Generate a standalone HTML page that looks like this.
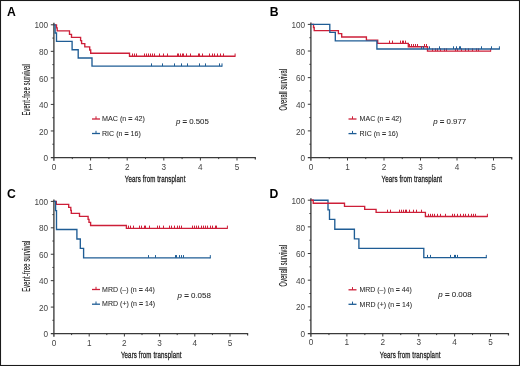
<!DOCTYPE html>
<html><head><meta charset="utf-8"><style>
html,body{margin:0;padding:0;background:#fff;}
body{width:520px;height:366px;overflow:hidden;}
svg{display:block;}
text{font-family:"Liberation Sans", sans-serif;}
svg{will-change:transform;}
.tk{font-size:8.2px;fill:#444;}
.tt{font-size:10.4px;fill:#1a1a1a;stroke:#1a1a1a;stroke-width:0.12px;}
.tx{font-size:9.5px;stroke-width:0.3px;}
.lg{font-size:7.3px;fill:#2a2a2a;stroke:#2a2a2a;stroke-width:0.06px;}
.lt{font-size:12.2px;font-weight:bold;fill:#000;}
</style></head><body>
<svg width="520" height="366" viewBox="0 0 520 366">
<rect x="0" y="0" width="520" height="366" fill="#fff"/>
<path d="M53.90 22.80V160.70" fill="none" stroke="#333" stroke-width="1.3"/>
<path d="M50.80 157.60H255.30v2" fill="none" stroke="#3a3a3a" stroke-width="1.25"/>
<path d="M52.40 144.23H54.00M50.80 130.96H54.00M52.40 117.69H54.00M50.80 104.42H54.00M52.40 91.15H54.00M50.80 77.88H54.00M52.40 64.61H54.00M50.80 51.34H54.00M52.40 38.07H54.00M50.80 24.80H54.00M72.30 157.50V159.10M90.60 157.50V160.50M108.90 157.50V159.10M127.20 157.50V160.50M145.50 157.50V159.10M163.80 157.50V160.50M182.10 157.50V159.10M200.40 157.50V160.50M218.70 157.50V159.10M237.00 157.50V160.50" fill="none" stroke="#3a3a3a" stroke-width="1.0"/>
<text x="48.10" y="161.15" text-anchor="end" class="tk">0</text>
<text x="48.10" y="134.61" text-anchor="end" class="tk">20</text>
<text x="48.10" y="108.07" text-anchor="end" class="tk">40</text>
<text x="48.10" y="81.53" text-anchor="end" class="tk">60</text>
<text x="48.10" y="54.99" text-anchor="end" class="tk">80</text>
<text x="48.10" y="28.45" text-anchor="end" class="tk">100</text>
<text x="54.00" y="170.40" text-anchor="middle" class="tk">0</text>
<text x="90.60" y="170.40" text-anchor="middle" class="tk">1</text>
<text x="127.20" y="170.40" text-anchor="middle" class="tk">2</text>
<text x="163.80" y="170.40" text-anchor="middle" class="tk">3</text>
<text x="200.40" y="170.40" text-anchor="middle" class="tk">4</text>
<text x="237.00" y="170.40" text-anchor="middle" class="tk">5</text>
<text transform="translate(155.05,182.20) scale(0.650,1)" text-anchor="middle" textLength="93.23" lengthAdjust="spacing" class="tt tx">Years from transplant</text>
<text transform="translate(30.00,89.90) rotate(-90) scale(0.540,1)" text-anchor="middle" textLength="94.63" lengthAdjust="spacing" class="tt">Event-free survival</text>
<text x="7.10" y="15.70" class="lt">A</text>
<path d="M54.00 24.80H56.50V27.90H57.20V30.90H69.50V34.30H71.50V37.40H80.60V40.60H81.60V43.60H84.80V46.90H89.70V50.00H90.70V53.20H129.50V56.20H235.30" fill="none" stroke="#cd1f38" stroke-width="1.35" stroke-linejoin="miter" stroke-linecap="butt"/>
<path d="M235.10 56.70v-3.2M132.50 56.20v-2.7M134.50 56.20v-2.7M136.50 56.20v-2.7M144.50 56.20v-2.7M146.50 56.20v-2.7M148.50 56.20v-2.7M150.50 56.20v-2.7M152.50 56.20v-2.7M154.50 56.20v-2.7M159.50 56.20v-2.7M163.50 56.20v-2.7M167.50 56.20v-2.7M177.50 56.20v-2.7M178.50 56.20v-2.7M180.50 56.20v-2.7M182.50 56.20v-2.7M183.50 56.20v-2.7M186.50 56.20v-2.7M190.50 56.20v-2.7M198.50 56.20v-2.7M199.50 56.20v-2.7M202.50 56.20v-2.7M209.50 56.20v-2.7M212.50 56.20v-2.7M214.50 56.20v-2.7M217.50 56.20v-2.7M220.50 56.20v-2.7M223.50 56.20v-2.7" fill="none" stroke="#cd1f38" stroke-width="1.0"/>
<path d="M54.00 24.80H55.10V33.00H56.50V41.40H72.10V49.70H78.20V58.00H92.00V66.10H222.20" fill="none" stroke="#1f5d95" stroke-width="1.35" stroke-linejoin="miter" stroke-linecap="butt"/>
<path d="M222.00 66.60v-3.2M151.50 66.10v-2.7M162.50 66.10v-2.7M174.50 66.10v-2.7M181.50 66.10v-2.7M187.50 66.10v-2.7M199.50 66.10v-2.7M205.50 66.10v-2.7M219.50 66.10v-2.7" fill="none" stroke="#1f5d95" stroke-width="1.0"/>
<path d="M92.00 119.00H100.00" fill="none" stroke="#cd1f38" stroke-width="1.3"/><path d="M96.00 119.00v-2.7" fill="none" stroke="#cd1f38" stroke-width="1.0"/>
<text transform="translate(102.00,121.20) scale(0.984,1)" class="lg">MAC (n <tspan font-weight="bold">=</tspan> 42)</text>
<path d="M92.00 133.50H100.00" fill="none" stroke="#1f5d95" stroke-width="1.3"/><path d="M96.00 133.50v-2.7" fill="none" stroke="#1f5d95" stroke-width="1.0"/>
<text transform="translate(102.00,135.70) scale(0.971,1)" class="lg">RIC (n <tspan font-weight="bold">=</tspan> 16)</text>
<text transform="translate(175.90,123.60) scale(1.074,1)" class="lg"><tspan font-style="italic">p</tspan> <tspan font-weight="bold">=</tspan> 0.505</text>
<path d="M310.90 22.40V160.70" fill="none" stroke="#333" stroke-width="1.3"/>
<path d="M307.80 157.60H511.75v2" fill="none" stroke="#3a3a3a" stroke-width="1.25"/>
<path d="M309.40 144.19H311.00M307.80 130.88H311.00M309.40 117.57H311.00M307.80 104.26H311.00M309.40 90.95H311.00M307.80 77.64H311.00M309.40 64.33H311.00M307.80 51.02H311.00M309.40 37.71H311.00M307.80 24.40H311.00M329.25 157.50V159.10M347.50 157.50V160.50M365.75 157.50V159.10M384.00 157.50V160.50M402.25 157.50V159.10M420.50 157.50V160.50M438.75 157.50V159.10M457.00 157.50V160.50M475.25 157.50V159.10M493.50 157.50V160.50" fill="none" stroke="#3a3a3a" stroke-width="1.0"/>
<text x="305.10" y="161.15" text-anchor="end" class="tk">0</text>
<text x="305.10" y="134.53" text-anchor="end" class="tk">20</text>
<text x="305.10" y="107.91" text-anchor="end" class="tk">40</text>
<text x="305.10" y="81.29" text-anchor="end" class="tk">60</text>
<text x="305.10" y="54.67" text-anchor="end" class="tk">80</text>
<text x="305.10" y="28.05" text-anchor="end" class="tk">100</text>
<text x="311.00" y="170.40" text-anchor="middle" class="tk">0</text>
<text x="347.50" y="170.40" text-anchor="middle" class="tk">1</text>
<text x="384.00" y="170.40" text-anchor="middle" class="tk">2</text>
<text x="420.50" y="170.40" text-anchor="middle" class="tk">3</text>
<text x="457.00" y="170.40" text-anchor="middle" class="tk">4</text>
<text x="493.50" y="170.40" text-anchor="middle" class="tk">5</text>
<text transform="translate(411.77,182.20) scale(0.650,1)" text-anchor="middle" textLength="93.23" lengthAdjust="spacing" class="tt tx">Years from transplant</text>
<text transform="translate(286.60,89.70) rotate(-90) scale(0.540,1)" text-anchor="middle" textLength="77.04" lengthAdjust="spacing" class="tt">Overall survival</text>
<text x="269.80" y="15.70" class="lt">B</text>
<path d="M311.00 24.40H313.50V27.50H314.20V30.60H338.40V33.60H341.70V37.00H366.40V40.10H377.70V43.30H408.30V46.70H427.50V51.10H490.90" fill="none" stroke="#cd1f38" stroke-width="1.35" stroke-linejoin="miter" stroke-linecap="butt"/>
<path d="M490.70 51.60v-3.2M389.50 43.30v-2.7M392.50 43.30v-2.7M400.50 43.30v-2.7M402.50 43.30v-2.7M403.50 43.30v-2.7M405.50 43.30v-2.7M409.50 46.70v-2.7M411.50 46.70v-2.7M413.50 46.70v-2.7M415.50 46.70v-2.7M417.50 46.70v-2.7M424.50 46.70v-2.7M426.50 46.70v-2.7M432.50 51.10v-2.7M435.50 51.10v-2.7M437.50 51.10v-2.7M440.50 51.10v-2.7M444.50 51.10v-2.7M446.50 51.10v-2.7M455.50 51.10v-2.7M457.50 51.10v-2.7M461.50 51.10v-2.7M465.50 51.10v-2.7M468.50 51.10v-2.7M472.50 51.10v-2.7M476.50 51.10v-2.7M478.50 51.10v-2.7" fill="none" stroke="#cd1f38" stroke-width="1.0"/>
<path d="M311.00 24.40H329.80V32.40H335.30V40.90H376.90V49.00H499.60" fill="none" stroke="#1f5d95" stroke-width="1.35" stroke-linejoin="miter" stroke-linecap="butt"/>
<path d="M499.40 49.50v-3.2M421.50 49.00v-2.7M423.50 49.00v-2.7M429.50 49.00v-2.7M439.50 49.00v-2.7M453.50 49.00v-2.7M456.50 49.00v-2.7M459.50 49.00v-2.7M460.50 49.00v-2.7M481.50 49.00v-2.7M491.50 49.00v-2.7" fill="none" stroke="#1f5d95" stroke-width="1.0"/>
<path d="M348.50 119.00H356.50" fill="none" stroke="#cd1f38" stroke-width="1.3"/><path d="M352.50 119.00v-2.7" fill="none" stroke="#cd1f38" stroke-width="1.0"/>
<text transform="translate(359.60,121.20) scale(0.965,1)" class="lg">MAC (n <tspan font-weight="bold">=</tspan> 42)</text>
<path d="M348.50 133.60H356.50" fill="none" stroke="#1f5d95" stroke-width="1.3"/><path d="M352.50 133.60v-2.7" fill="none" stroke="#1f5d95" stroke-width="1.0"/>
<text transform="translate(359.60,135.80) scale(0.966,1)" class="lg">RIC (n <tspan font-weight="bold">=</tspan> 16)</text>
<text transform="translate(433.20,123.70) scale(1.080,1)" class="lg"><tspan font-style="italic">p</tspan> <tspan font-weight="bold">=</tspan> 0.977</text>
<path d="M53.90 199.40V336.70" fill="none" stroke="#333" stroke-width="1.3"/>
<path d="M50.80 333.60H247.60v2" fill="none" stroke="#3a3a3a" stroke-width="1.25"/>
<path d="M52.40 320.29H54.00M50.80 307.08H54.00M52.40 293.87H54.00M50.80 280.66H54.00M52.40 267.45H54.00M50.80 254.24H54.00M52.40 241.03H54.00M50.80 227.82H54.00M52.40 214.61H54.00M50.80 201.40H54.00M71.60 333.50V335.10M89.20 333.50V336.50M106.80 333.50V335.10M124.40 333.50V336.50M142.00 333.50V335.10M159.60 333.50V336.50M177.20 333.50V335.10M194.80 333.50V336.50M212.40 333.50V335.10M230.00 333.50V336.50" fill="none" stroke="#3a3a3a" stroke-width="1.0"/>
<text x="48.10" y="337.15" text-anchor="end" class="tk">0</text>
<text x="48.10" y="310.73" text-anchor="end" class="tk">20</text>
<text x="48.10" y="284.31" text-anchor="end" class="tk">40</text>
<text x="48.10" y="257.89" text-anchor="end" class="tk">60</text>
<text x="48.10" y="231.47" text-anchor="end" class="tk">80</text>
<text x="48.10" y="205.05" text-anchor="end" class="tk">100</text>
<text x="54.00" y="346.40" text-anchor="middle" class="tk">0</text>
<text x="89.20" y="346.40" text-anchor="middle" class="tk">1</text>
<text x="124.40" y="346.40" text-anchor="middle" class="tk">2</text>
<text x="159.60" y="346.40" text-anchor="middle" class="tk">3</text>
<text x="194.80" y="346.40" text-anchor="middle" class="tk">4</text>
<text x="230.00" y="346.40" text-anchor="middle" class="tk">5</text>
<text transform="translate(151.20,358.20) scale(0.650,1)" text-anchor="middle" textLength="93.23" lengthAdjust="spacing" class="tt tx">Years from transplant</text>
<text transform="translate(30.00,266.20) rotate(-90) scale(0.540,1)" text-anchor="middle" textLength="94.63" lengthAdjust="spacing" class="tt">Event-free survival</text>
<text x="7.10" y="198.40" class="lt">C</text>
<path d="M54.00 201.40H56.30V204.30H68.70V207.40H70.80V210.40H71.30V213.40H79.50V216.40H88.10V219.40H89.00V222.40H90.60V225.50H126.40V228.30H227.60" fill="none" stroke="#cd1f38" stroke-width="1.35" stroke-linejoin="miter" stroke-linecap="butt"/>
<path d="M227.40 228.80v-3.2M128.50 228.30v-2.7M130.50 228.30v-2.7M133.50 228.30v-2.7M139.50 228.30v-2.7M141.50 228.30v-2.7M144.50 228.30v-2.7M145.50 228.30v-2.7M149.50 228.30v-2.7M157.50 228.30v-2.7M159.50 228.30v-2.7M163.50 228.30v-2.7M169.50 228.30v-2.7M171.50 228.30v-2.7M174.50 228.30v-2.7M177.50 228.30v-2.7M179.50 228.30v-2.7M181.50 228.30v-2.7M192.50 228.30v-2.7M194.50 228.30v-2.7M196.50 228.30v-2.7M198.50 228.30v-2.7M201.50 228.30v-2.7M203.50 228.30v-2.7M205.50 228.30v-2.7M207.50 228.30v-2.7M210.50 228.30v-2.7M212.50 228.30v-2.7M215.50 228.30v-2.7M216.50 228.30v-2.7" fill="none" stroke="#cd1f38" stroke-width="1.0"/>
<path d="M54.00 201.40H55.60V210.60H56.50V229.50H76.90V239.00H80.30V248.40H83.60V257.80H210.50" fill="none" stroke="#1f5d95" stroke-width="1.35" stroke-linejoin="miter" stroke-linecap="butt"/>
<path d="M210.30 258.30v-3.2M148.50 257.80v-2.7M155.50 257.80v-2.7M175.50 257.80v-2.7M176.50 257.80v-2.7M179.50 257.80v-2.7M181.50 257.80v-2.7M183.50 257.80v-2.7" fill="none" stroke="#1f5d95" stroke-width="1.0"/>
<path d="M92.00 289.50H100.00" fill="none" stroke="#cd1f38" stroke-width="1.3"/><path d="M96.00 289.50v-2.7" fill="none" stroke="#cd1f38" stroke-width="1.0"/>
<text transform="translate(102.10,291.70) scale(0.961,1)" class="lg">MRD (–) (n <tspan font-weight="bold">=</tspan> 44)</text>
<path d="M92.00 304.20H100.00" fill="none" stroke="#1f5d95" stroke-width="1.3"/><path d="M96.00 304.20v-2.7" fill="none" stroke="#1f5d95" stroke-width="1.0"/>
<text transform="translate(102.10,306.40) scale(0.964,1)" class="lg">MRD (+) (n <tspan font-weight="bold">=</tspan> 14)</text>
<text transform="translate(177.50,297.70) scale(1.090,1)" class="lg"><tspan font-style="italic">p</tspan> <tspan font-weight="bold">=</tspan> 0.058</text>
<path d="M310.90 198.20V336.70" fill="none" stroke="#333" stroke-width="1.3"/>
<path d="M307.80 333.60H508.45v2" fill="none" stroke="#3a3a3a" stroke-width="1.25"/>
<path d="M309.40 320.17H311.00M307.80 306.84H311.00M309.40 293.51H311.00M307.80 280.18H311.00M309.40 266.85H311.00M307.80 253.52H311.00M309.40 240.19H311.00M307.80 226.86H311.00M309.40 213.53H311.00M307.80 200.20H311.00M328.95 333.50V335.10M346.90 333.50V336.50M364.85 333.50V335.10M382.80 333.50V336.50M400.75 333.50V335.10M418.70 333.50V336.50M436.65 333.50V335.10M454.60 333.50V336.50M472.55 333.50V335.10M490.50 333.50V336.50" fill="none" stroke="#3a3a3a" stroke-width="1.0"/>
<text x="305.10" y="337.15" text-anchor="end" class="tk">0</text>
<text x="305.10" y="310.49" text-anchor="end" class="tk">20</text>
<text x="305.10" y="283.83" text-anchor="end" class="tk">40</text>
<text x="305.10" y="257.17" text-anchor="end" class="tk">60</text>
<text x="305.10" y="230.51" text-anchor="end" class="tk">80</text>
<text x="305.10" y="203.85" text-anchor="end" class="tk">100</text>
<text x="311.00" y="345.40" text-anchor="middle" class="tk">0</text>
<text x="346.90" y="345.40" text-anchor="middle" class="tk">1</text>
<text x="382.80" y="345.40" text-anchor="middle" class="tk">2</text>
<text x="418.70" y="345.40" text-anchor="middle" class="tk">3</text>
<text x="454.60" y="345.40" text-anchor="middle" class="tk">4</text>
<text x="490.50" y="345.40" text-anchor="middle" class="tk">5</text>
<text transform="translate(410.12,358.20) scale(0.650,1)" text-anchor="middle" textLength="93.23" lengthAdjust="spacing" class="tt tx">Years from transplant</text>
<text transform="translate(286.60,265.60) rotate(-90) scale(0.540,1)" text-anchor="middle" textLength="77.04" lengthAdjust="spacing" class="tt">Overall survival</text>
<text x="269.60" y="198.10" class="lt">D</text>
<path d="M311.00 200.20H328.00V209.80H329.50V219.30H334.80V229.20H354.40V238.80H358.90V248.30H423.80V257.60H486.50" fill="none" stroke="#1f5d95" stroke-width="1.35" stroke-linejoin="miter" stroke-linecap="butt"/>
<path d="M486.30 258.10v-3.2M427.50 257.60v-2.7M430.50 257.60v-2.7M450.50 257.60v-2.7M454.50 257.60v-2.7M455.50 257.60v-2.7M457.50 257.60v-2.7" fill="none" stroke="#1f5d95" stroke-width="1.0"/>
<path d="M311.00 200.20H313.20V203.20H344.50V206.30H364.70V209.30H376.10V212.40H425.40V216.50H487.60" fill="none" stroke="#cd1f38" stroke-width="1.35" stroke-linejoin="miter" stroke-linecap="butt"/>
<path d="M487.40 217.00v-3.2M387.50 212.40v-2.7M390.50 212.40v-2.7M399.50 212.40v-2.7M401.50 212.40v-2.7M403.50 212.40v-2.7M405.50 212.40v-2.7M406.50 212.40v-2.7M409.50 212.40v-2.7M413.50 212.40v-2.7M416.50 212.40v-2.7M421.50 212.40v-2.7M428.50 216.50v-2.7M430.50 216.50v-2.7M432.50 216.50v-2.7M434.50 216.50v-2.7M437.50 216.50v-2.7M440.50 216.50v-2.7M445.50 216.50v-2.7M452.50 216.50v-2.7M454.50 216.50v-2.7M457.50 216.50v-2.7M460.50 216.50v-2.7M463.50 216.50v-2.7M465.50 216.50v-2.7M468.50 216.50v-2.7M471.50 216.50v-2.7M473.50 216.50v-2.7M475.50 216.50v-2.7" fill="none" stroke="#cd1f38" stroke-width="1.0"/>
<path d="M348.50 289.80H356.50" fill="none" stroke="#cd1f38" stroke-width="1.3"/><path d="M352.50 289.80v-2.7" fill="none" stroke="#cd1f38" stroke-width="1.0"/>
<text transform="translate(359.60,292.00) scale(0.950,1)" class="lg">MRD (–) (n <tspan font-weight="bold">=</tspan> 44)</text>
<path d="M348.50 304.30H356.50" fill="none" stroke="#1f5d95" stroke-width="1.3"/><path d="M352.50 304.30v-2.7" fill="none" stroke="#1f5d95" stroke-width="1.0"/>
<text transform="translate(359.60,306.50) scale(0.953,1)" class="lg">MRD (+) (n <tspan font-weight="bold">=</tspan> 14)</text>
<text transform="translate(438.30,297.40) scale(1.087,1)" class="lg"><tspan font-style="italic">p</tspan> <tspan font-weight="bold">=</tspan> 0.008</text>
<rect x="0.5" y="0.5" width="519" height="365" fill="none" stroke="#1a1a1a" stroke-width="1.1"/>
</svg>
</body></html>
